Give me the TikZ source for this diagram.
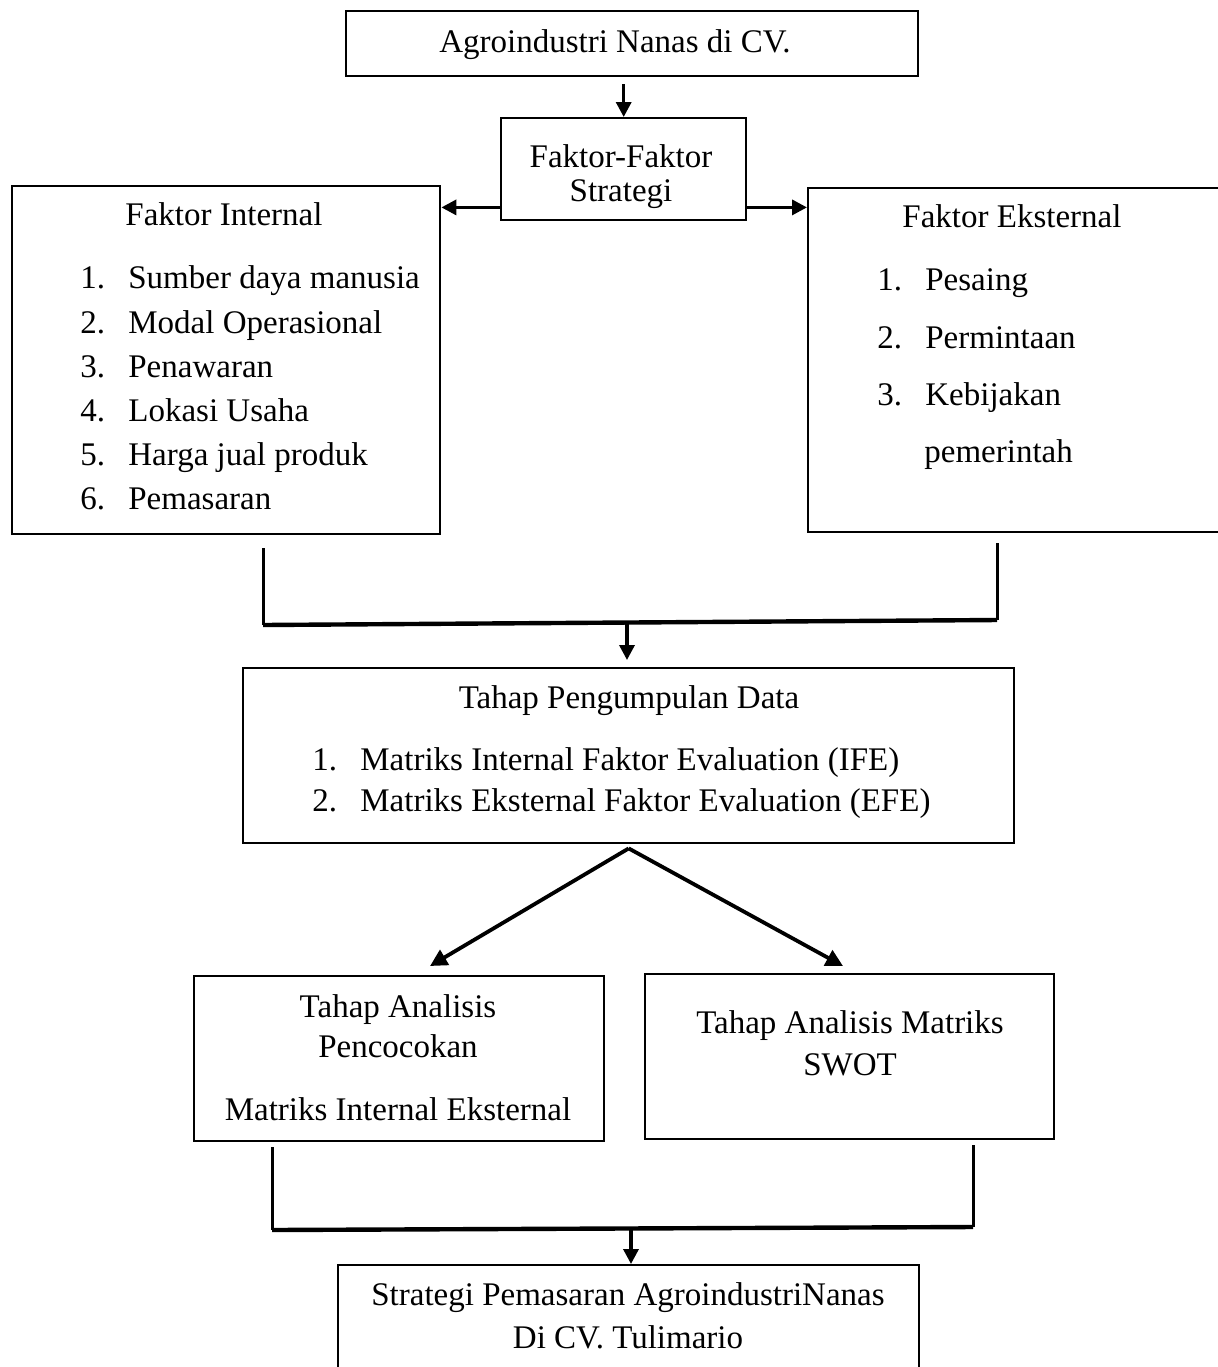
\documentclass[tikz,border=0pt]{standalone}
\usepackage{fontspec}
\setmainfont{Liberation Serif}
\usetikzlibrary{arrows.meta}
\tikzset{
  box/.style={draw=black, line width=1.2pt, inner sep=0pt, anchor=north west},
  txt/.style={inner sep=0pt, anchor=base, font=\fontsize{16.5}{20}\selectfont},
  txtl/.style={inner sep=0pt, anchor=base west, font=\fontsize{16.5}{20}\selectfont},
  arr/.style={line width=1.7pt, -{Triangle[length=7.5pt,width=7.5pt]}},
  darr/.style={line width=1.9pt, -{Triangle[length=8.5pt,width=8.5pt]}},
  vline/.style={line width=1.5pt},
  hline/.style={line width=2.2pt}
}
\newcommand{\num}[1]{\makebox[24pt][l]{#1}}
\begin{document}
\begin{tikzpicture}[x=0.5pt,y=-0.5pt]
\path[use as bounding box, fill=white] (0,0) rectangle (1217,1367);

% boxes
\node[box, minimum width=286pt, minimum height=32.5pt] (top) at (345,10) {};
\node[box, minimum width=122.5pt, minimum height=51pt] (ffs) at (500,117) {};
\node[box, minimum width=214pt, minimum height=174pt] (fi) at (11,185) {};
\node[box, minimum width=215pt, minimum height=172pt] (fe) at (807,187) {};
\node[box, minimum width=385.5pt, minimum height=87.5pt] (tpd) at (242,667) {};
\node[box, minimum width=205pt, minimum height=82.5pt] (tam) at (193,975) {};
\node[box, minimum width=204.5pt, minimum height=82.5pt] (swot) at (644,973) {};
\node[box, minimum width=290.5pt, minimum height=70pt] (spn) at (337,1264) {};

% texts
\node[txt] (ttop) at (615,52) {Agroindustri Nanas di CV.};
\node[txt] (tffs1) at (621,167) {Faktor-Faktor};
\node[txt] (tffs2) at (621,201) {Strategi};

\node[txt] (tfi) at (224,225) {Faktor Internal};
\node[txtl] (i1) at (80,288) {\num{1.}Sumber daya manusia};
\node[txtl] (i2) at (80,333) {\num{2.}Modal Operasional};
\node[txtl] (i3) at (80,377) {\num{3.}Penawaran};
\node[txtl] (i4) at (80,421) {\num{4.}Lokasi Usaha};
\node[txtl] (i5) at (80,465) {\num{5.}Harga jual produk};
\node[txtl] (i6) at (80,509) {\num{6.}Pemasaran};

\node[txt] (tfe) at (1012,227) {Faktor Eksternal};
\node[txtl] (e1) at (877,290) {\num{1.}Pesaing};
\node[txtl] (e2) at (877,348) {\num{2.}Permintaan};
\node[txtl] (e3) at (877,405) {\num{3.}Kebijakan};
\node[txtl] (e4) at (924,462) {pemerintah};

\node[txt] (ttpd) at (629,708) {Tahap Pengumpulan Data};
\node[txtl] (d1) at (312,770) {\num{1.}Matriks Internal Faktor Evaluation (IFE)};
\node[txtl] (d2) at (312,811) {\num{2.}Matriks Eksternal Faktor Evaluation (EFE)};

\node[txt] (tam1) at (398,1017) {Tahap Analisis};
\node[txt] (tam2) at (398,1057) {Pencocokan};
\node[txt] (tam3) at (398,1120) {Matriks Internal Eksternal};

\node[txt] (sw1) at (850,1033) {Tahap Analisis Matriks};
\node[txt] (sw2) at (850,1075) {SWOT};

\node[txt] (sp1) at (628,1305) {Strategi Pemasaran AgroindustriNanas};
\node[txt] (sp2) at (628,1348) {Di CV. Tulimario};

% coordinates
\coordinate (a1) at (263,548);
\coordinate (j1) at (263,625);
\coordinate (a2) at (997,543);
\coordinate (j2) at (997,620);
\coordinate (jm) at (627,623);
\coordinate (t1) at (430,966);
\coordinate (t2) at (843,966);
\coordinate (b1) at (272,1147);
\coordinate (k1) at (272,1230);
\coordinate (b2) at (973,1145);
\coordinate (k2) at (973,1227);
\coordinate (km) at (631,1228);

% connectors
\draw[arr, shorten <=3.5pt] (ffs.north |- top.south) -- (ffs.north);
\draw[arr] ([yshift=7pt]ffs.south west) -- ([yshift=7pt]ffs.south west -| fi.east);
\draw[arr] ([yshift=7pt]ffs.south east) -- ([yshift=7pt]ffs.south east -| fe.west);

\draw[vline] (a1) -- (j1);
\draw[vline] (a2) -- (j2);
\draw[hline] (j1) -- (j2);
\draw[arr, shorten >=3.5pt] (jm) -- (jm |- tpd.north);

\draw[darr] ([yshift=-2pt]tpd.south) -- (t1);
\draw[darr] ([yshift=-2pt]tpd.south) -- (t2);

\draw[vline] (b1) -- (k1);
\draw[vline] (b2) -- (k2);
\draw[hline] (k1) -- (k2);
\draw[arr] (km) -- (km |- spn.north);
\end{tikzpicture}
\end{document}
